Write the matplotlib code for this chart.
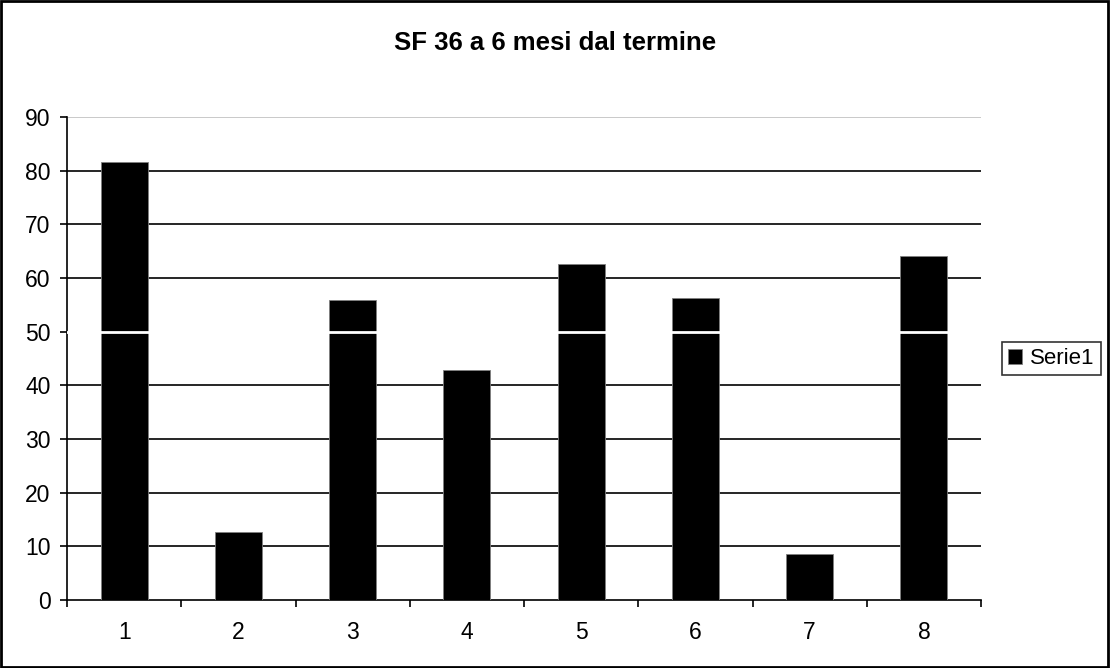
import numpy as np
import matplotlib.pyplot as plt
from matplotlib.patches import Rectangle

plt.rcParams['font.family'] = ['Liberation Sans', 'DejaVu Sans']

categories = ['1', '2', '3', '4', '5', '6', '7', '8']
values = [81.6, 12.6, 56.0, 42.8, 62.7, 56.2, 8.5, 64.2]
series_name = 'Serie1'
title = 'SF 36 a 6 mesi dal termine'

fig = plt.figure(figsize=(11.1, 6.68), dpi=100)
ax = fig.add_axes([0.0604, 0.1018, 0.8234, 0.7228])

x = np.arange(len(categories))
ax.bar(x, values, width=0.41, color='black', edgecolor='#808080',
       linewidth=0.6, zorder=3, label=series_name)

ax.set_xlim(-0.5, len(categories) - 0.5)
ax.set_ylim(0, 90)
ax.set_yticks(np.arange(0, 91, 10))

# gridlines like the Excel original
for yv in range(10, 90, 10):
    if yv == 50:
        continue
    ax.axhline(yv, color='black', linewidth=1.2, zorder=1)
ax.axhline(90, color='#c0c0c0', linewidth=1.2, zorder=1)
ax.axhline(50, color='white', linewidth=2.0, zorder=4)

ax.set_xticks(x)
ax.set_xticklabels(categories)
ax.set_xticks(np.arange(-0.5, len(categories), 1), minor=True)
ax.tick_params(axis='x', which='major', length=0, pad=15, labelsize=16.5)
ax.tick_params(axis='x', which='minor', length=5, width=1.2, direction='out')
ax.tick_params(axis='y', length=5, width=1.2, direction='out', labelsize=16.5, pad=7)

for s in ['top', 'right']:
    ax.spines[s].set_visible(False)
for s in ['left', 'bottom']:
    ax.spines[s].set_linewidth(1.2)
    ax.spines[s].set_color('black')

fig.text(0.5, 0.925, title, ha='center', va='baseline', fontsize=18.5, fontweight='bold')

leg = ax.legend(loc='center left', bbox_to_anchor=(1.023, 0.5), fontsize=16,
                frameon=True, fancybox=False, edgecolor='black',
                handlelength=0.63, handleheight=0.63, handletextpad=0.36,
                borderpad=0.28, borderaxespad=0)
leg.get_frame().set_linewidth(1.2)

fig.patches.append(Rectangle((0.001, 0.001), 0.997, 0.997, transform=fig.transFigure,
                             fill=False, edgecolor='black', linewidth=2))

fig.savefig('out.png', dpi=100)
